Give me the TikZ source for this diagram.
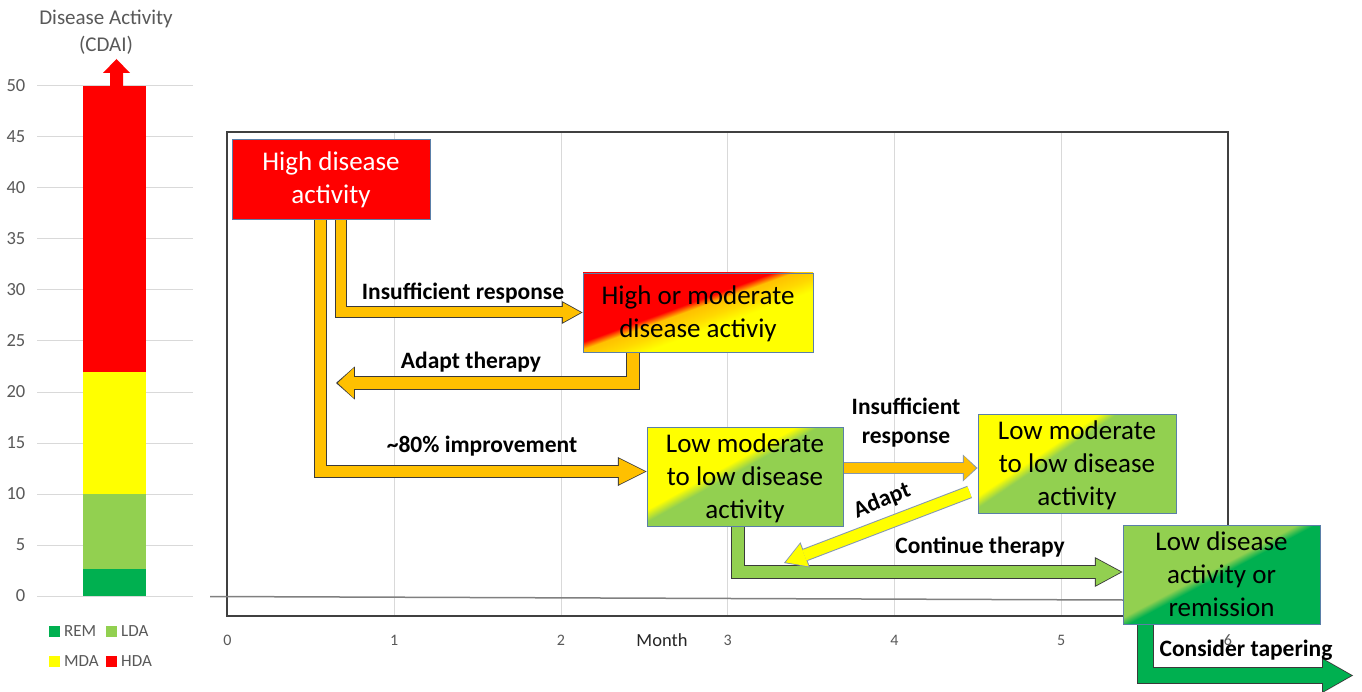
\documentclass[tikz,border=0pt]{standalone}
\usepackage{fontspec}
\setmainfont{Carlito}
\usetikzlibrary{arrows.meta,calc}

\definecolor{hdaRed}{HTML}{FF0000}
\definecolor{mdaYellow}{HTML}{FFFF00}
\definecolor{ldaGreen}{HTML}{92D050}
\definecolor{remGreen}{HTML}{00B050}
\definecolor{amber}{HTML}{FFC000}
\definecolor{gridGray}{HTML}{D9D9D9}
\definecolor{axisText}{HTML}{595959}
\definecolor{boxEdge}{HTML}{5A7FA8}
\definecolor{arrowEdge}{HTML}{3A3A3A}
\definecolor{softEdge}{HTML}{8497B0}
\definecolor{frameGray}{HTML}{404040}

% diagonal two-colour fills for the status boxes
\pgfdeclarehorizontalshading{shHM}{100bp}{color(0bp)=(hdaRed); color(45bp)=(hdaRed); color(48bp)=(amber); color(53bp)=(amber!60!mdaYellow); color(58bp)=(mdaYellow); color(100bp)=(mdaYellow)}
\pgfdeclarehorizontalshading{shLMa}{100bp}{color(0bp)=(mdaYellow); color(43bp)=(mdaYellow); color(47bp)=(ldaGreen); color(100bp)=(ldaGreen)}
\pgfdeclarehorizontalshading{shLMb}{100bp}{color(0bp)=(mdaYellow); color(39.5bp)=(mdaYellow); color(43bp)=(ldaGreen); color(100bp)=(ldaGreen)}
\pgfdeclarehorizontalshading{shLR}{100bp}{color(0bp)=(ldaGreen); color(46.8bp)=(ldaGreen); color(50bp)=(remGreen); color(100bp)=(remGreen)}

\pgfdeclarelayer{grid}
\pgfdeclarelayer{flow}
\pgfsetlayers{grid,flow,main}

% fixed line height for the text inside the status boxes
\newcommand\boxstrut{\rule[-8pt]{0pt}{33pt}}

% outlined block arrow: fill, outline, shaft width, head width, head length, path
\newcommand\blkarrow[6]{%
  \pgfmathsetmacro\bkOS{#3+2}%
  \pgfmathsetmacro\bkOW{#4+3}%
  \pgfmathsetmacro\bkOL{#5+2.8}%
  \draw[line join=miter, draw=#2, line width=\bkOS pt,
        -{Triangle[width=\bkOW pt, length=\bkOL pt, line width=0pt]}] #6;
  \draw[line join=miter, draw=#1, line width=#3pt, shorten >=1.8pt,
        -{Triangle[width=#4pt, length=#5pt, line width=0pt]}] #6;
}

\begin{document}
\begin{tikzpicture}[x=1pt,y=-1pt,
  flowbox/.style={draw=boxEdge, line width=0.9pt, inner sep=0pt, align=center,
    font={\fontsize{27}{33}\selectfont}},
  steplabel/.style={font={\bfseries\fontsize{23.5}{29}\selectfont}, align=center, text=black},
  axisnum/.style={font={\fontsize{18.5}{22}\selectfont}, text=axisText},
  gridline/.style={draw=gridGray, line width=1pt},
  legendbox/.style={minimum size=11pt, inner sep=0pt},
  legendtext/.style={font={\fontsize{17}{20}\selectfont}, text=axisText, anchor=west, inner sep=0pt}]
\useasboundingbox (0,0) rectangle (1362,692);

\begin{pgfonlayer}{grid}
  \fill[white] (0,0) rectangle (1362,692);
  % ---- CDAI scale ----
  \foreach \v in {0,5,...,50} {
    \draw[gridline] (37,{596-10.2*\v}) -- (193,{596-10.2*\v});
    \node[axisnum, anchor=east, inner sep=0pt] at (25.5,{596-10.2*\v}) {\v};
  }
  \fill[remGreen]  (83,596)   rectangle (146,568.5);
  \fill[ldaGreen]  (83,568.5) rectangle (146,494);
  \fill[mdaYellow] (83,494)   rectangle (146,371.6);
  \fill[hdaRed]    (83,371.6) rectangle (146,86);
  \fill[hdaRed] (110,87) -- (110,73) -- (103,73) -- (116.5,59) -- (130,73)
    -- (123,73) -- (123,87) -- cycle;
  % ---- month grid ----
  \foreach \m in {1,...,5}
    \draw[gridline] ({227.5+166.75*\m},132) -- ({227.5+166.75*\m},616);
  \draw[frameGray, line width=1.6pt] (227,132) rectangle (1228,616);
  \draw[gray, line width=1.5pt] (210,596.5) -- (1123,600);
  \foreach \m in {0,...,6}
    \node[font={\fontsize{16}{19}\selectfont}, text=axisText] at ({227.5+166.75*\m},640) {\m};
\end{pgfonlayer}

% ---- titles and legend ----
\node[font={\fontsize{21}{27}\selectfont}, text=axisText, align=center] (ytitle) at (106,32) {Disease Activity\\(CDAI)};
\node[font={\fontsize{18.5}{22}\selectfont}, text=black!85] (xtitle) at (662,640) {Month};

\node[legendbox, fill=remGreen]  (kREM) at (54.5,631) {};
\node[legendtext] (tREM) at (64,631) {REM};
\node[legendbox, fill=ldaGreen]  (kLDA) at (111.5,631) {};
\node[legendtext] (tLDA) at (121,631) {LDA};
\node[legendbox, fill=mdaYellow] (kMDA) at (54.5,661.5) {};
\node[legendtext] (tMDA) at (64,661.5) {MDA};
\node[legendbox, fill=hdaRed]    (kHDA) at (111.5,661.5) {};
\node[legendtext] (tHDA) at (121,661.5) {HDA};

% ---- status boxes ----
\node[flowbox, fill=hdaRed, text=white, minimum width=198pt, minimum height=80pt]
  (hda) at (331,179) {\boxstrut High disease\\\boxstrut activity};
\node[flowbox, shade, shading=shHM, shading angle=-70, minimum width=230pt, minimum height=79pt]
  (hmda) at (698,312.5) {\boxstrut High or moderate\\\boxstrut disease activiy};
\node[flowbox, shade, shading=shLMa, shading angle=-61, minimum width=196pt, minimum height=99pt]
  (lmd1) at (745,476.5) {\boxstrut Low moderate\\\boxstrut to low disease\\\boxstrut activity};
\node[flowbox, shade, shading=shLMb, shading angle=-56, minimum width=198pt, minimum height=98pt]
  (lmd2) at (1077,464) {\boxstrut Low moderate\\\boxstrut to low disease\\\boxstrut activity};
\node[flowbox, shade, shading=shLR, shading angle=-62, minimum width=197pt, minimum height=99pt]
  (ldr) at (1221.5,574.5) {\boxstrut Low disease\\\boxstrut activity or\\\boxstrut remission};

% ---- free ends of connectors ----
\coordinate (adaptEnd) at (336,383);
\coordinate (taperEnd) at (1353,675.5);
\coordinate (adaptTip) at (784,563);
\coordinate (adaptTail) at ([shift={(-8pt,22pt)}]lmd2.south west);
\coordinate (s1) at ([yshift=8.5pt]lmd1.east);

% ---- connectors ----
\begin{pgfonlayer}{flow}
  \blkarrow{ldaGreen}{arrowEdge}{12}{27}{25}{([xshift=-7.5pt]lmd1.south) |- ([yshift=2.5pt]ldr.west)}
  \blkarrow{remGreen}{arrowEdge}{15}{32}{28}{([xshift=-76pt]ldr.south) |- (taperEnd)}
  \blkarrow{amber}{arrowEdge}{10}{20}{18}{([xshift=10pt]hda.south) |- (hmda.west)}
  \blkarrow{amber}{arrowEdge}{12}{30}{16}{([xshift=-65.5pt]hmda.south) |- (adaptEnd)}
  \blkarrow{amber}{arrowEdge}{11}{26}{26}{([xshift=-10.5pt]hda.south) |- ([yshift=5pt]lmd1.west)}
  \blkarrow{amber}{softEdge}{10}{24}{12}{(s1) -- (s1 -| lmd2.west)}
  \blkarrow{mdaYellow}{softEdge}{11}{24}{20}{(adaptTail) -- (adaptTip)}
\end{pgfonlayer}

% ---- connector labels ----
\node[steplabel] (lInsuf1) at (463,293) {Insufficient response};
\node[steplabel] (lAdapt1) at (471,362) {Adapt therapy};
\node[steplabel] (lImpr) at (482,446) {\textasciitilde 80\% improvement};
\node[steplabel] (lInsuf2) at (906,423) {Insufficient\\response};
\node[steplabel, rotate=22] (lAdapt2) at (882,501) {Adapt};
\node[steplabel] (lCont) at (980,547) {Continue therapy};
\node[steplabel] (lTaper) at (1246,650) {Consider tapering};
\end{tikzpicture}
\end{document}
